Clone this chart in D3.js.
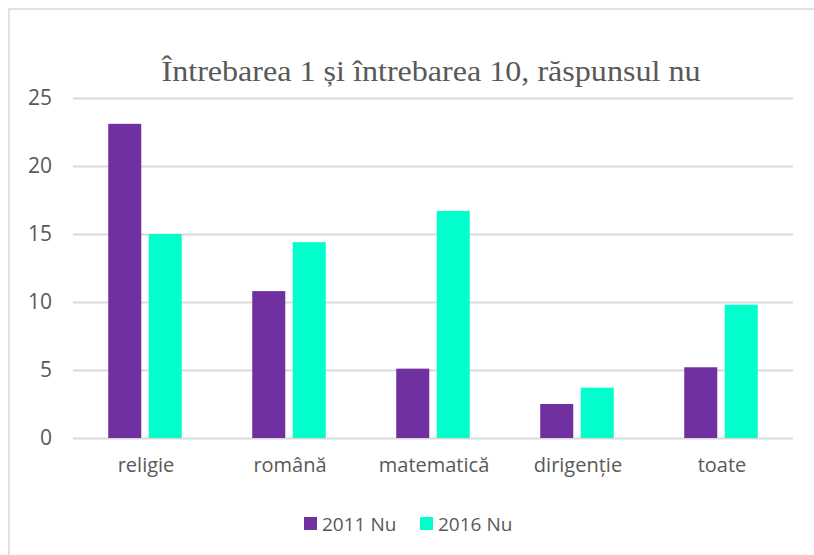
<!DOCTYPE html>
<html>
<head>
<meta charset="utf-8">
<script src="https://cdn.jsdelivr.net/npm/d3@7"></script>
<style>
  body { margin: 0; background: #fff; }
  svg { display: block; }
</style>
</head>
<body>
<svg id="chart"></svg>
<script>
// chart data
const categories = ["religie", "română", "matematică", "dirigenție", "toate"];
const seriesNames = ["2011 Nu", "2016 Nu"];
const values2011 = [23.1, 10.8, 5.1, 2.5, 5.2];
const values2016 = [15.0, 14.4, 16.7, 3.7, 9.8];
const yTicks = [0, 5, 10, 15, 20, 25];
const titleText = "Întrebarea 1 și întrebarea 10, răspunsul nu";

const colors = ["#7030A0", "#00FFCC"];
const textColor = "#595959";
const gridColor = "#D9D9D9";

const width = 814, height = 555;
const plot = { left: 73, right: 793, top: 98, bottom: 438 };

const svg = d3.select("#chart").attr("width", width).attr("height", height);

// chart area border (only top and left edges are visible in the frame)
svg.append("rect")
    .attr("x", 9).attr("y", 9)
    .attr("width", width + 20).attr("height", height + 20)
    .attr("fill", "#fff")
    .attr("stroke", gridColor).attr("stroke-width", 1.5);

const x = d3.scaleBand().domain(categories).range([plot.left, plot.right]);
const x1 = d3.scaleBand().domain(seriesNames).range([0, x.bandwidth()]).paddingInner(0.185).paddingOuter(0.87);
const y = d3.scaleLinear().domain([0, 25]).range([plot.bottom, plot.top]);

// gridlines + y labels
const yAxis = d3.axisLeft(y).tickValues(yTicks).tickSize(-(plot.right - plot.left)).tickPadding(21);
const gy = svg.append("g").attr("transform", `translate(${plot.left},0)`).call(yAxis);
gy.select(".domain").remove();
gy.selectAll(".tick line").attr("stroke", gridColor).attr("stroke-width", 2);
gy.selectAll(".tick text")
    .attr("fill", textColor)
    .attr("font-family", "'Open Sans', sans-serif")
    .attr("font-size", 21);

// bars
const data = categories.map((c, i) => ({ cat: c, vals: [values2011[i], values2016[i]] }));
const groups = svg.append("g").selectAll("g").data(data).join("g")
    .attr("transform", d => `translate(${x(d.cat)},0)`);
groups.selectAll("rect")
    .data(d => d.vals.map((v, j) => ({ series: seriesNames[j], v, j })))
    .join("rect")
    .attr("x", d => x1(d.series))
    .attr("y", d => y(d.v))
    .attr("width", x1.bandwidth())
    .attr("height", d => y(0) - y(d.v))
    .attr("fill", d => colors[d.j]);

// x axis labels
const xAxis = d3.axisBottom(x).tickSize(0).tickPadding(20);
const gx = svg.append("g").attr("transform", `translate(1,${plot.bottom})`).call(xAxis);
gx.select(".domain").remove();
gx.selectAll(".tick text")
    .attr("fill", textColor)
    .attr("font-family", "'Open Sans', sans-serif")
    .attr("font-size", 20);

// title
svg.append("text")
    .attr("x", 431).attr("y", 81)
    .attr("text-anchor", "middle")
    .attr("fill", textColor)
    .attr("font-family", "'Liberation Serif', 'Times New Roman', serif")
    .attr("font-size", 30)
    .attr("textLength", 539)
    .attr("lengthAdjust", "spacingAndGlyphs")
    .text(titleText);

// legend
const legendX = [304, 420];
const legend = svg.append("g").selectAll("g").data(seriesNames).join("g")
    .attr("transform", (d, i) => `translate(${legendX[i]},517)`);
legend.append("rect").attr("width", 13).attr("height", 13).attr("fill", (d, i) => colors[i]);
legend.append("text")
    .attr("x", 18).attr("y", 14)
    .attr("fill", textColor)
    .attr("font-family", "'Open Sans', sans-serif")
    .attr("font-size", 19)
    .text(d => d);
</script>
</body>
</html>
